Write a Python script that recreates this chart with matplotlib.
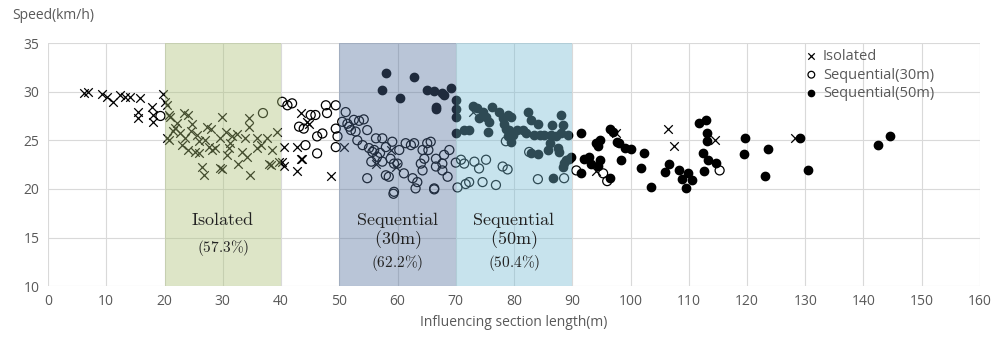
import matplotlib.pyplot as plt

# %% data

iso_x = [6.1, 6.9, 9.2, 10.1, 11.2, 12.4, 13.2, 14.1, 15.8, 17.8, 15.5, 15.5, 18.1, 18.1, 19.8,
         20.4, 20.7, 20.7, 21.8, 20.1, 21.0, 20.4, 23.3, 24.1, 24.7, 22.7, 23.6, 23.0, 25.6, 25.3,
         25.9, 27.3, 27.9, 27.6, 28.2, 28.7, 29.9, 29.6, 30.5, 31.3, 31.6, 31.0, 26.4, 26.7, 29.6,
         34.5, 34.5, 33.9, 33.3, 34.2, 32.7, 34.75, 35.9, 36.5, 35.9, 37.6, 38.5, 39.3, 37.9, 38.2,
         39.6, 29.9, 22.2, 24.5, 26.0, 27.0, 32.5, 30.8, 24.0, 21.5,
         40.5, 42.8, 43.6, 42.8, 48.5, 40.5, 44.5, 43.4, 44.8, 40.2, 43.4, 50.8, 58.8, 56.3, 59.7,
         72.9, 97.5, 94.1, 106.4, 107.5, 114.5, 128.2]
iso_y = [29.9, 30.0, 29.75, 29.5, 28.95, 29.65, 29.5, 29.5, 29.3, 28.45, 27.9, 27.25, 27.6, 26.9, 29.8,
         28.6, 27.6, 25.0, 26.25, 28.96, 27.4, 25.2, 27.8, 27.6, 26.7, 25.7, 25.2, 24.5, 25.5, 23.8,
         23.65, 26.4, 26.2, 24.3, 24.0, 24.2, 27.4, 25.2, 25.9, 24.7, 25.4, 24.2, 22.3, 21.4, 22.1,
         27.25, 26.4, 25.2, 23.8, 23.3, 22.6, 21.4, 25.2, 24.5, 24.2, 25.2, 24.0, 25.9, 22.6, 22.5,
         22.8, 22.0, 26.8, 26.0, 24.9, 25.0, 25.6, 23.5, 24.0, 26.0,
         24.3, 24.3, 23.1, 21.8, 21.3, 22.4, 26.9, 27.8, 26.7, 22.8, 23.1, 24.3, 24.0, 22.6, 22.3,
         27.9, 25.8, 21.8, 26.2, 24.4, 25.0, 25.2]

s30_x = [19.3, 36.9, 40.2, 41.1, 41.9, 45.1, 45.9, 47.7, 49.4, 47.9, 43.1, 43.9, 47.1, 46.2, 44.2,
         49.4, 49.7, 49.4, 46.2, 51.1, 50.5, 51.4, 52.0, 52.5, 53.4, 54.2, 51.7, 52.8, 54.8, 53.1,
         54.0, 55.1, 56.3, 57.4, 59.1, 55.7, 56.5, 57.4, 58.0, 58.5, 54.8, 59.4, 58.8, 60.0, 60.3,
         61.4, 62.3, 62.85, 61.1, 62.6, 63.4, 63.1, 64.3, 64.0, 64.6, 65.3, 65.7, 65.1, 66.6, 66.6,
         67.7, 67.7, 66.3, 68.9, 68.0, 64.3, 59.4, 59.3, 66.3, 68.6, 56.0, 57.0, 58.0, 55.5,
         70.0, 70.9, 71.45, 73.2, 74.0, 75.2, 78.05, 78.9, 78.6, 82.6, 70.3, 71.7, 72.3, 74.6, 76.9,
         84.1, 88.6, 90.7, 95.3, 96.0, 115.3]
s30_y = [27.5, 27.8, 28.96, 28.6, 28.8, 27.6, 27.6, 28.6, 28.6, 27.8, 26.4, 26.2, 25.7, 25.4, 24.5,
         26.2, 25.4, 24.3, 23.65, 27.9, 26.9, 26.7, 26.05, 27.1, 27.0, 27.15, 26.4, 25.9, 26.05, 25.0,
         24.5, 24.2, 25.2, 25.2, 24.85, 23.8, 23.3, 22.8, 21.4, 21.25, 21.1, 19.7, 23.1, 22.6, 24.0,
         24.7, 24.5, 24.7, 21.6, 21.1, 20.7, 20.05, 21.9, 22.6, 23.1, 24.0, 24.85, 24.7, 23.1, 22.3,
         22.6, 21.9, 20.05, 24.0, 23.5, 24.0, 22.6, 19.5, 19.95, 21.25, 24.0, 23.7, 24.3, 22.8,
         22.7, 23.0, 22.6, 22.8, 22.1, 23.0, 22.3, 22.0, 24.9, 23.8, 20.15, 20.5, 20.7, 20.7, 20.4,
         21.0, 21.1, 21.9, 21.6, 20.8, 21.9]

s50_x = [58.0, 62.85, 57.4, 60.4, 65.1, 66.3, 67.6, 68.0, 69.2, 66.6, 66.6, 70.0, 70.0, 70.0, 70.0,
         71.45, 72.3, 72.9, 73.7, 74.6, 74.0, 75.2, 75.75, 76.3, 75.5, 77.5, 78.05, 78.9, 79.5, 78.3,
         78.6, 79.2, 78.9, 79.8, 79.5, 80.6, 81.5, 82.1, 82.4, 83.0, 84.1, 83.5, 84.4, 85.2, 86.4,
         87.2, 88.1, 89.2, 86.6, 88.4, 88.1, 86.1, 85.8, 87.5, 87.8, 82.9, 84.1, 88.9, 88.6, 88.4,
         89.5, 86.7,
         91.5, 89.8, 92.1, 92.9, 91.5, 93.2, 94.7, 94.4, 94.1, 94.7, 94.4, 96.4, 97.0, 97.6, 98.1,
         99.0, 100.1, 98.3, 96.4, 102.4, 101.85, 103.45, 106.6, 106.0, 108.4, 109.9, 108.9, 110.6,
         109.6, 111.8, 113.0, 113.15, 113.2, 112.5, 113.3, 114.6, 112.6, 119.7, 119.5, 123.6, 123.1,
         129.1, 130.4, 142.45, 144.6]
s50_y = [31.9, 31.5, 30.2, 29.3, 30.2, 30.1, 29.9, 29.65, 30.4, 28.2, 28.4, 29.1, 28.2, 27.4, 25.8,
         26.1, 26.1, 28.5, 28.3, 27.9, 27.25, 27.4, 26.9, 28.4, 25.9, 27.9, 27.25, 27.6, 27.4, 26.7,
         26.2, 26.05, 25.4, 25.5, 24.85, 26.05, 26.05, 25.7, 27.9, 27.1, 26.7, 25.5, 25.5, 25.5, 25.5,
         25.4, 25.7, 25.5, 26.6, 26.6, 27.6, 24.7, 24.0, 24.2, 23.8, 23.65, 23.6, 23.0, 22.7, 22.3,
         23.1, 21.1,
         25.7, 23.3, 23.1, 23.3, 21.65, 22.6, 23.0, 22.4, 24.7, 25.0, 24.4, 26.2, 25.9, 24.85, 24.7,
         24.2, 24.1, 23.0, 21.1, 23.65, 22.1, 20.15, 22.6, 21.7, 21.9, 21.6, 21.0, 20.9,
         20.1, 26.8, 27.1, 25.8, 24.95, 23.7, 23.0, 22.7, 21.8, 25.2, 23.55, 24.1, 21.3,
         25.2, 21.9, 24.5, 25.4]

zones = [(20, 40), (50, 70), (70, 90)]
zone_colors = ["#aac075", "#506e9b", "#75bbd4"]
zone_names = [[r"$\mathrm{Isolated}$"],
              [r"$\mathrm{Sequential}$", r"$(30\mathrm{m})$"],
              [r"$\mathrm{Sequential}$", r"$(50\mathrm{m})$"]]
zone_shares = [r"$(57.3\%)$", r"$(62.2\%)$", r"$(50.4\%)$"]

# %% plot

plt.rcParams["font.family"] = ["Open Sans", "DejaVu Sans"]
plt.rcParams["mathtext.fontset"] = "cm"
grey = "#595959"

fig = plt.figure(figsize=(9.92, 3.39), dpi=100)
ax = fig.add_axes([0.0484, 0.156, 0.9395, 0.717])

ax.scatter(iso_x, iso_y, marker="x", s=38, c="black", linewidths=0.9, zorder=2, label="Isolated")
ax.scatter(s30_x, s30_y, marker="o", s=42, facecolors="none", edgecolors="black",
           linewidths=0.9, zorder=2, label="Sequential(30m)")
ax.scatter(s50_x, s50_y, marker="o", s=36, c="black", zorder=2, label="Sequential(50m)")

for (x0, x1), col in zip(zones, zone_colors):
    ax.axvspan(x0, x1, color=col, alpha=0.4, lw=0, zorder=3)

name_y = [16.8, 14.75]
for (x0, x1), names, share in zip(zones, zone_names, zone_shares):
    xc = (x0 + x1) / 2
    for name, ty in zip(names, name_y):
        ax.text(xc, ty, name, ha="center", va="center", fontsize=13, color="#222222", zorder=4)
    share_y = 13.9 if len(names) == 1 else 12.4
    ax.text(xc, share_y, share, ha="center", va="center", fontsize=11, color="#222222", zorder=4)

ax.set_xlim(0, 160)
ax.set_ylim(10, 35)
ax.set_xticks(range(0, 161, 10))
ax.set_yticks(range(10, 36, 5))
ax.grid(True, color="#d9d9d9", lw=0.8, zorder=0)
ax.set_axisbelow(True)
for sp in ax.spines.values():
    sp.set_visible(False)
ax.tick_params(length=0, labelsize=10, colors=grey, pad=6)

ax.set_xlabel("Influencing section length(m)", fontsize=10, color=grey, labelpad=4)
fig.text(0.012, 0.955, "Speed(km/h)", fontsize=10, color=grey, ha="left", va="center")

ax.legend(loc="upper right", bbox_to_anchor=(0.965, 1.03), frameon=False, fontsize=10.5,
          handlelength=1.0, handletextpad=0.3, labelspacing=0.25, markerscale=0.75,
          labelcolor=grey)

fig.savefig("out.png", dpi=100)
